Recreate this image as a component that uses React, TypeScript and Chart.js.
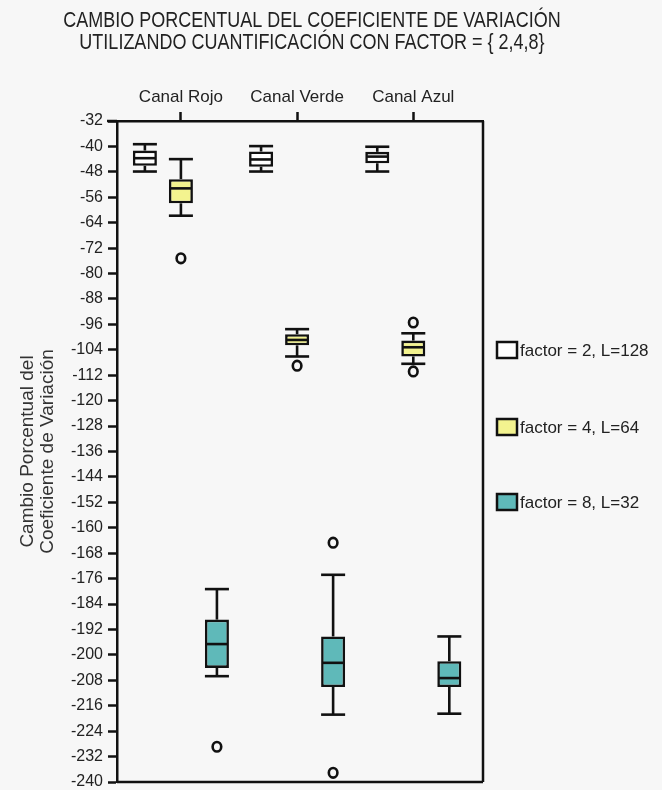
import React, { useEffect, useRef } from 'react';
import { Chart, registerables } from 'chart.js';

Chart.register(...registerables);

// ---------- data ----------
const channels = ['Canal Rojo', 'Canal Verde', 'Canal Azul'];
const seriesLabels = ['factor = 2, L=128', 'factor = 4, L=64', 'factor = 8, L=32'];
const seriesColors = ['#ffffff', '#f3f38f', '#5fb9b9'];

const titleLines = [
  'CAMBIO PORCENTUAL DEL COEFICIENTE DE VARIACIÓN',
  'UTILIZANDO CUANTIFICACIÓN CON FACTOR = { 2,4,8}',
];
const yTitleLines = ['Cambio Porcentual del', 'Coeficiente de Variación'];

const yMin = -240;
const yMax = -32;
const yStep = 8;

const f2Low = [-47.9, -47.9, -47.9];
const f2Q1 = [-46.1, -46.4, -45.3];
const f2Median = [-43.7, -44.1, -43.2];
const f2Q3 = [-41.3, -41.6, -41.7];
const f2High = [-39.3, -39.9, -40.1];
const f2Outliers: number[][] = [[], [], []];

const f4Low = [-61.8, -106.1, -108.4];
const f4Q1 = [-57.9, -102.6, -106.1];
const f4Median = [-53.2, -100.9, -103.2];
const f4Q3 = [-50.3, -99.1, -101.1];
const f4High = [-44.0, -97.5, -98.8];
const f4Outliers: number[][] = [[-75.2], [-109.0], [-95.4, -110.8]];

const f8Low = [-206.7, -218.8, -218.5];
const f8Q1 = [-204.1, -210.1, -210.1];
const f8Median = [-196.6, -202.5, -207.3];
const f8Q3 = [-188.9, -194.2, -202.0];
const f8High = [-179.3, -174.8, -194.2];
const f8Outliers: number[][] = [[-228.9], [-164.7, -237.1], []];

// ---------- styling ----------
const BG = '#f7f7f7';
const INK = '#111111';
const TEXT = '#222222';
const FONT = "'Liberation Sans', Arial, sans-serif";

const allStats = [
  { low: f2Low, q1: f2Q1, median: f2Median, q3: f2Q3, high: f2High, outliers: f2Outliers },
  { low: f4Low, q1: f4Q1, median: f4Median, q3: f4Q3, high: f4High, outliers: f4Outliers },
  { low: f8Low, q1: f8Q1, median: f8Median, q3: f8Q3, high: f8High, outliers: f8Outliers },
];

const boxPlugin = {
  id: 'boxExtras',
  beforeDraw(chart: any) {
    const { ctx, width, height } = chart;
    ctx.save();
    ctx.fillStyle = BG;
    ctx.fillRect(0, 0, width, height);
    ctx.restore();
  },
  afterDatasetsDraw(chart: any) {
    const ctx = chart.ctx;
    const ys = chart.scales.y;
    const line = (x1: number, y1: number, x2: number, y2: number) => {
      ctx.beginPath();
      ctx.moveTo(x1, y1);
      ctx.lineTo(x2, y2);
      ctx.stroke();
    };
    chart.data.datasets.forEach((ds: any, di: number) => {
      const meta = chart.getDatasetMeta(di);
      const s = ds.stats;
      meta.data.forEach((el: any, j: number) => {
        const { x, width } = el.getProps(['x', 'width'], true);
        const half = width / 2;
        const pLow = ys.getPixelForValue(s.low[j]);
        const pQ1 = ys.getPixelForValue(s.q1[j]);
        const pMed = ys.getPixelForValue(s.median[j]);
        const pQ3 = ys.getPixelForValue(s.q3[j]);
        const pHigh = ys.getPixelForValue(s.high[j]);
        ctx.save();
        ctx.strokeStyle = INK;
        ctx.lineWidth = 2.6;
        line(x, pHigh, x, pQ3);
        line(x, pQ1, x, pLow);
        line(x - half, pHigh, x + half, pHigh);
        line(x - half, pLow, x + half, pLow);
        line(x - half + 1, pMed, x + half - 1, pMed);
        s.outliers[j].forEach((v: number) => {
          const py = ys.getPixelForValue(v);
          ctx.beginPath();
          ctx.ellipse(x, py, 4.3, 4.8, 0, 0, Math.PI * 2);
          ctx.stroke();
        });
        ctx.restore();
      });
    });
    // right and bottom frame
    const a = chart.chartArea;
    ctx.save();
    ctx.strokeStyle = INK;
    ctx.lineWidth = 2.5;
    line(a.right, a.top, a.right, a.bottom);
    line(a.left, a.bottom, a.right, a.bottom);
    // top axis extends a bit to the left
    line(a.left - 10, a.top, a.left, a.top);
    ctx.restore();
  },
  afterDraw(chart: any) {
    const ctx = chart.ctx;
    // title
    ctx.save();
    ctx.fillStyle = TEXT;
    ctx.font = `18px ${FONT}`;
    ctx.textAlign = 'center';
    ctx.textBaseline = 'middle';
    const titleY = [21, 43];
    titleLines.forEach((t, i) => {
      ctx.save();
      ctx.translate(312, titleY[i]);
      ctx.scale(1, 1.2);
      ctx.fillText(t, 0, 0);
      ctx.restore();
    });
    ctx.restore();
    // legend
    const centers = [350, 427, 502];
    ctx.save();
    chart.data.datasets.forEach((ds: any, i: number) => {
      const cy = centers[i];
      ctx.fillStyle = ds.backgroundColor;
      ctx.fillRect(497, cy - 8, 20, 16);
      ctx.strokeStyle = INK;
      ctx.lineWidth = 2.5;
      ctx.strokeRect(497, cy - 8, 20, 16);
      ctx.fillStyle = TEXT;
      ctx.font = `17px ${FONT}`;
      ctx.textAlign = 'left';
      ctx.textBaseline = 'middle';
      ctx.fillText(ds.label, 520, cy + 1);
    });
    ctx.restore();
  },
};

export default function App() {
  const ref = useRef<HTMLCanvasElement>(null);
  useEffect(() => {
    const datasets = allStats.map((s, i) => ({
      label: seriesLabels[i],
      data: channels.map((_, j) => ({ x: j, y: [s.q1[j], s.q3[j]] })),
      backgroundColor: seriesColors[i],
      borderColor: INK,
      borderWidth: 2.6,
      borderSkipped: false,
      categoryPercentage: 0.93,
      barPercentage: 0.667,
      stats: s,
    }));
    const chart = new Chart(ref.current as HTMLCanvasElement, {
      type: 'bar',
      data: { datasets } as any,
      plugins: [boxPlugin],
      options: {
        animation: false,
        responsive: false,
        devicePixelRatio: 1,
        events: [],
        layout: { padding: { left: 0, top: 0, right: 179, bottom: 0 } },
        plugins: {
          legend: { display: false },
          title: { display: false },
          tooltip: { enabled: false },
        },
        scales: {
          x: {
            type: 'linear',
            position: 'top',
            offset: false,
            min: -0.55,
            max: 2.6,
            afterBuildTicks: (scale: any) => {
              scale.ticks = channels.map((_, i) => ({ value: i }));
            },
            afterFit: (scale: any) => {
              scale.height = 121;
            },
            ticks: {
              autoSkip: false,
              maxRotation: 0,
              padding: 4,
              color: TEXT,
              font: { family: FONT, size: 17 },
              callback: (v: any) => channels[v] ?? '',
            },
            grid: {
              drawOnChartArea: false,
              drawTicks: true,
              tickLength: 9,
              tickWidth: 2.5,
              tickColor: INK,
              offset: false,
            },
            border: { color: INK, width: 2.5 },
          },
          y: {
            type: 'linear',
            min: yMin,
            max: yMax,
            beginAtZero: false,
            afterFit: (scale: any) => {
              scale.width = 117;
              scale.paddingTop = 0;
              scale.paddingBottom = 8;
            },
            ticks: {
              stepSize: yStep,
              autoSkip: false,
              padding: 5,
              color: TEXT,
              font: { family: FONT, size: 16 },
            },
            grid: {
              drawOnChartArea: false,
              drawTicks: true,
              tickLength: 9,
              tickWidth: 2.5,
              tickColor: INK,
            },
            border: { color: INK, width: 2.5 },
            title: {
              display: true,
              text: yTitleLines,
              color: '#333333',
              font: { family: FONT, size: 19, lineHeight: 1.05 },
              padding: { top: 18, bottom: 0 },
            },
          },
        },
      } as any,
    });
    return () => chart.destroy();
  }, []);
  return (
    <div style={{ position: 'fixed', left: 0, top: 0, width: 662, height: 790, background: BG }}>
      <canvas ref={ref} width={662} height={790} style={{ display: 'block', width: 662, height: 790 }} />
    </div>
  );
}
